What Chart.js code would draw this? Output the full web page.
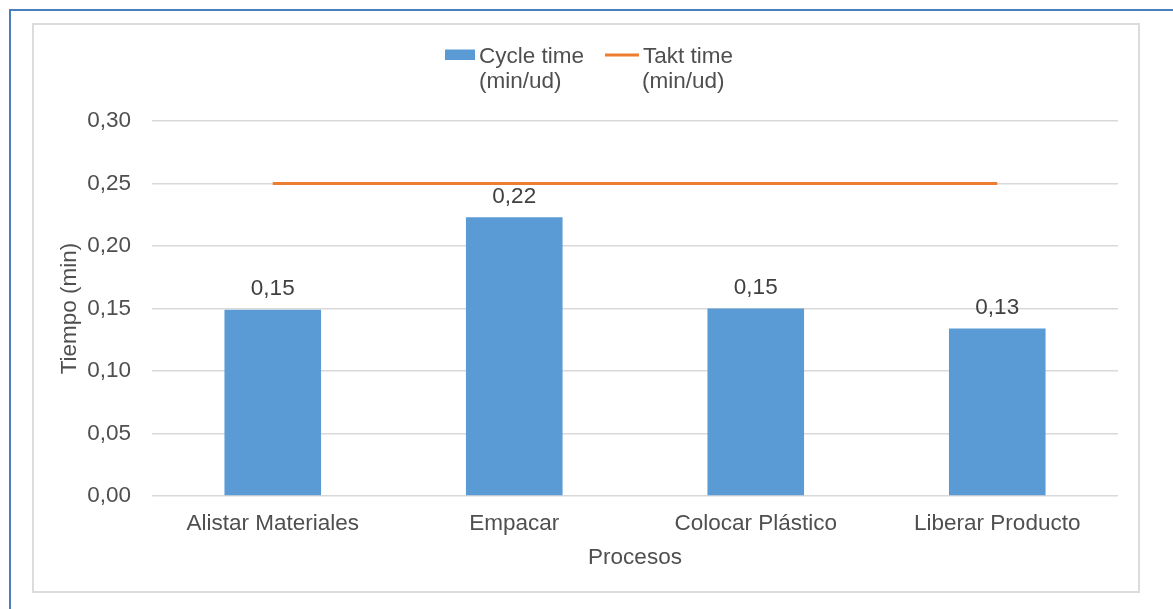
<!DOCTYPE html>
<html>
<head>
<meta charset="utf-8">
<title>Tiempo por proceso</title>
<script src="https://cdn.jsdelivr.net/npm/chart.js@4"></script>
<style>
  html, body { margin: 0; padding: 0; background: #ffffff; }
  #wrap { position: relative; width: 1173px; height: 609px; }
  canvas { display: block; }
</style>
</head>
<body>
<div id="wrap"><canvas id="chart" width="1173" height="609"></canvas></div>
<script>
// Processes and their times (min per unit)
const categories = ['Alistar Materiales', 'Empacar', 'Colocar Plástico', 'Liberar Producto'];
const cycleTime = [0.149, 0.223, 0.150, 0.134];
const taktTime = [0.25, 0.25, 0.25, 0.25];
const seriesLabels = [['Cycle time', '(min/ud)'], ['Takt time', '(min/ud)']];
const yTicks = [0, 0.05, 0.10, 0.15, 0.20, 0.25, 0.30];

const FONT = '"Liberation Sans", Arial, sans-serif';
const FSIZE = 22.5;
const TEXT = '#4f4f4f';
const BLUE = '#5b9bd5';
const ORANGE = '#ed7d31';

const fmt = v => v.toFixed(2).replace('.', ',');

// Outer page frame and chart border
const framePlugin = {
  id: 'frames',
  beforeDraw(chart) {
    const ctx = chart.ctx;
    ctx.save();
    ctx.fillStyle = '#ffffff';
    ctx.fillRect(0, 0, chart.width, chart.height);
    ctx.strokeStyle = '#4a7ebf';
    ctx.lineWidth = 2;
    ctx.beginPath();
    ctx.moveTo(10, chart.height);
    ctx.lineTo(10, 10);
    ctx.lineTo(chart.width, 10);
    ctx.stroke();
    ctx.strokeStyle = '#dcdcdc';
    ctx.lineWidth = 2;
    ctx.strokeRect(33, 24, 1106, 568);
    ctx.restore();
  }
};

// Value labels above the bars
const valueLabels = {
  id: 'valueLabels',
  afterDatasetsDraw(chart) {
    const ctx = chart.ctx;
    const idx = chart.data.datasets.findIndex(d => d.type === 'bar');
    const meta = chart.getDatasetMeta(idx);
    ctx.save();
    ctx.font = FSIZE + 'px ' + FONT;
    ctx.fillStyle = '#404040';
    ctx.textAlign = 'center';
    ctx.textBaseline = 'middle';
    meta.data.forEach((bar, i) => {
      ctx.fillText(fmt(chart.data.datasets[idx].data[i]), bar.x, bar.y - 20.5);
    });
    ctx.restore();
  }
};

// Two-line legend centred above the plot
const topLegend = {
  id: 'topLegend',
  afterDraw(chart) {
    const ctx = chart.ctx;
    ctx.save();
    ctx.font = FSIZE + 'px ' + FONT;
    ctx.textAlign = 'left';
    ctx.textBaseline = 'middle';
    const y1 = 56.5, y2 = 82;
    // bar series
    ctx.fillStyle = BLUE;
    ctx.fillRect(445, 49.5, 30, 10.5);
    ctx.fillStyle = TEXT;
    ctx.fillText(seriesLabels[0][0], 479, y1);
    ctx.fillText(seriesLabels[0][1], 479, y2);
    // line series
    ctx.strokeStyle = ORANGE;
    ctx.lineWidth = 3;
    ctx.beginPath();
    ctx.moveTo(605, 55);
    ctx.lineTo(639, 55);
    ctx.stroke();
    ctx.fillText(seriesLabels[1][0], 643, y1);
    ctx.fillText(seriesLabels[1][1], 642, y2);
    ctx.restore();
  }
};

new Chart(document.getElementById('chart'), {
  data: {
    labels: categories,
    datasets: [
      {
        type: 'line',
        label: seriesLabels[1].join(' '),
        data: taktTime,
        borderColor: ORANGE,
        borderWidth: 3,
        pointRadius: 0,
        fill: false,
        order: 0
      },
      {
        type: 'bar',
        label: seriesLabels[0].join(' '),
        data: cycleTime,
        backgroundColor: BLUE,
        borderWidth: 0,
        categoryPercentage: 1,
        barPercentage: 0.4,
        order: 1
      }
    ]
  },
  options: {
    responsive: false,
    animation: false,
    events: [],
    layout: { padding: { top: 121, right: 55, bottom: 0, left: 0 } },
    plugins: {
      legend: { display: false },
      tooltip: { enabled: false }
    },
    scales: {
      x: {
        grid: { display: false, drawTicks: false },
        border: { display: false },
        ticks: {
          padding: 14.5,
          color: TEXT,
          font: { family: FONT, size: FSIZE },
          maxRotation: 0,
          autoSkip: false
        },
        title: {
          display: true,
          text: 'Procesos',
          color: TEXT,
          font: { family: FONT, size: FSIZE },
          padding: { top: 0, bottom: 38 }
        },
        afterFit(scale) { scale.height = 113; }
      },
      y: {
        min: 0,
        max: 0.3,
        afterBuildTicks(scale) { scale.ticks = yTicks.map(v => ({ value: v })); },
        grid: { color: '#d9d9d9', lineWidth: 1.5, drawTicks: false },
        border: { display: false },
        ticks: {
          padding: 21,
          color: TEXT,
          font: { family: FONT, size: FSIZE },
          callback: v => fmt(v)
        },
        title: {
          display: true,
          text: 'Tiempo (min)',
          color: TEXT,
          font: { family: FONT, size: FSIZE },
          padding: { top: 56.5, bottom: 0 }
        },
        afterFit(scale) { scale.width = 152; }
      }
    }
  },
  plugins: [framePlugin, valueLabels, topLegend]
});
</script>
</body>
</html>
